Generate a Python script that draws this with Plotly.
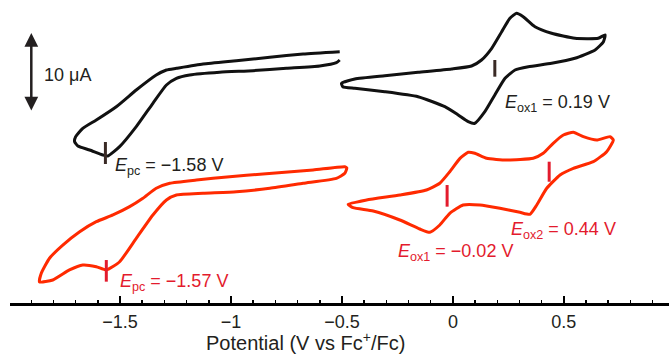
import plotly.graph_objects as go

# ---- Data (potential in V vs Fc+/Fc, current in µA with vertical offsets for stacking) ----
black_red_E = [-0.510, -0.675, -0.825, -0.976, -1.126, -1.246, -1.291, -1.337, -1.427, -1.517,
               -1.607, -1.668, -1.700, -1.705, -1.690, -1.637, -1.577, -1.555, -1.502, -1.427,
               -1.352, -1.291, -1.246, -1.186, -1.051, -0.901, -0.750, -0.600, -0.525, -0.510]
black_red_I = [32.64, 32.34, 31.91, 31.47, 31.04, 30.48, 30.26, 29.61, 27.66, 25.49,
               23.77, 22.69, 21.60, 20.95, 20.39, 19.87, 19.22, 19.09, 20.30, 22.90,
               25.94, 28.31, 29.18, 29.61, 29.96, 30.17, 30.48, 30.78, 31.21, 31.56]

black_ox_E = [-0.502, -0.442, -0.307, -0.157, -0.006, 0.084, 0.129, 0.175, 0.220, 0.257,
              0.287, 0.317, 0.370, 0.445, 0.550, 0.655, 0.686, 0.678, 0.641, 0.550,
              0.445, 0.340, 0.280, 0.235, 0.189, 0.144, 0.099, 0.069, 0.024, -0.036,
              -0.157, -0.307, -0.442, -0.496, -0.502]
black_ox_I = [28.53, 29.09, 29.52, 29.96, 30.39, 30.78, 31.56, 33.08, 35.23, 36.97,
              37.62, 37.18, 35.88, 35.03, 34.38, 34.38, 34.81, 33.90, 32.86, 31.78,
              31.13, 30.69, 30.26, 29.18, 27.01, 24.84, 23.34, 23.55, 24.42, 25.49,
              26.79, 27.44, 27.88, 28.09, 28.53]

red_red_E = [-0.487, -0.630, -0.856, -1.006, -1.156, -1.276, -1.337, -1.397, -1.457, -1.532,
             -1.607, -1.682, -1.758, -1.818, -1.855, -1.863, -1.803, -1.728, -1.668, -1.607,
             -1.562, -1.502, -1.427, -1.352, -1.291, -1.246, -1.126, -0.976, -0.825, -0.675,
             -0.525, -0.487, -0.478, -0.487]
red_red_I = [17.70, 17.27, 16.75, 16.40, 15.97, 15.55, 14.90, 13.60, 12.51, 11.43,
             10.56, 9.26, 7.53, 5.81, 3.86, 2.73, 2.99, 4.29, 4.94, 4.71,
             4.29, 5.36, 8.40, 11.43, 13.38, 14.03, 14.25, 14.45, 14.90, 15.55,
             16.19, 16.84, 17.53, 17.70]

red_ox_E = [-0.472, -0.389, -0.239, -0.119, -0.059, -0.014, 0.032, 0.069, 0.099, 0.152,
            0.242, 0.362, 0.407, 0.452, 0.498, 0.543, 0.588, 0.648, 0.708, 0.723,
            0.693, 0.633, 0.543, 0.483, 0.423, 0.378, 0.347, 0.302, 0.212, 0.122,
            0.046, -0.014, -0.059, -0.104, -0.149, -0.239, -0.359, -0.450, -0.472]
red_ox_I = [12.82, 13.38, 14.03, 14.68, 15.55, 17.05, 18.79, 19.57, 19.44, 18.79,
            18.57, 18.79, 19.44, 20.74, 21.82, 22.17, 21.60, 21.17, 21.60, 21.17,
            19.65, 18.35, 17.49, 16.62, 14.90, 12.73, 11.52, 11.78, 12.30, 12.73,
            12.73, 11.65, 10.13, 9.18, 9.61, 10.78, 11.95, 12.38, 12.82]

# peak marker positions (V) and their vertical extents (µA, offset scale)
peak_E = [-1.566, 0.189, -1.562, -0.026, 0.434]
peak_I_low = [18.05, 29.39, 2.77, 12.51, 15.75]
peak_I_high = [20.91, 31.56, 5.58, 15.32, 18.35]
peak_is_red = [False, False, True, True, True]

# peak labels
label_text = ["<i>E</i><sub>pc</sub> = \u22121.58 V", "<i>E</i><sub>ox1</sub> = 0.19 V",
              "<i>E</i><sub>pc</sub> = \u22121.57 V", "<i>E</i><sub>ox1</sub> = \u22120.02 V",
              "<i>E</i><sub>ox2</sub> = 0.44 V"]
label_E = [-1.534, 0.228, -1.511, -0.256, 0.252]
label_I = [17.7, 25.9, 2.7, 6.5, 9.4]

# scale bar (10 µA)
scale_E = -1.900
scale_I = [24.81, 35.06]
scale_label = "10 \u03bcA"

tick_vals = [-1.5, -1.0, -0.5, 0.0, 0.5]
tick_text = ["\u22121.5", "\u22121", "\u22120.5", "0", "0.5"]
x_title = "Potential (V vs Fc<sup>+</sup>/Fc)"

BLACK = "#111111"
RED_LINE = "#ff2a00"
RED_MARK = "#e31b2d"
DARK = "#231f20"
FONT = "Liberation Sans, Arial, sans-serif"

fig = go.Figure()
for xs, ys, col in [(black_red_E, black_red_I, BLACK), (black_ox_E, black_ox_I, BLACK),
                    (red_red_E, red_red_I, RED_LINE), (red_ox_E, red_ox_I, RED_LINE)]:
    fig.add_trace(go.Scatter(x=xs, y=ys, mode="lines",
                             line=dict(color=col, width=3, shape="spline", smoothing=0.5),
                             hoverinfo="skip"))

for e, lo, hi, isred in zip(peak_E, peak_I_low, peak_I_high, peak_is_red):
    fig.add_trace(go.Scatter(x=[e, e], y=[lo, hi], mode="lines",
                             line=dict(color=RED_MARK if isred else "#3a2a25", width=3),
                             hoverinfo="skip"))

for t, e, i, isred in zip(label_text, label_E, label_I, peak_is_red):
    fig.add_annotation(x=e, y=i, text=t, showarrow=False, xanchor="left", yanchor="middle",
                       font=dict(family=FONT, size=18, color=RED_MARK if isred else DARK))

fig.add_annotation(x=scale_E, y=scale_I[1], ax=scale_E, ay=scale_I[0], xref="x", yref="y",
                   axref="x", ayref="y", text="", showarrow=True, arrowhead=2, arrowside="end+start",
                   arrowsize=1.1, arrowwidth=2.5, arrowcolor=DARK)
fig.add_annotation(x=-1.854, y=29.6, text=scale_label, showarrow=False, xanchor="left",
                   yanchor="middle", font=dict(family=FONT, size=18, color=DARK))

# axis title placed as an annotation (it sits left of the plot-area centre in the reference)
fig.add_annotation(xref="paper", yref="paper", x=0.449, y=0, yshift=-38, text=x_title,
                   showarrow=False, xanchor="center", yanchor="middle",
                   font=dict(family=FONT, size=20, color=DARK))

fig.update_layout(
    width=669, height=354, margin=dict(l=10, r=0, t=0, b=51),
    paper_bgcolor="white", plot_bgcolor="white", showlegend=False,
    font=dict(family=FONT, color=DARK),
    xaxis=dict(range=[-1.996, 0.974], showgrid=False, zeroline=False,
               showline=True, linecolor="black", linewidth=3,
               ticks="inside", ticklen=7, tickwidth=2.5, tickcolor="black",
               tickvals=tick_vals, ticktext=tick_text,
               tickfont=dict(family=FONT, size=18, color=DARK),
               minor=dict(dtick=0.1, tick0=0, ticks="inside", ticklen=3, tickwidth=1.5,
                          tickcolor="black", showgrid=False)),
    yaxis=dict(range=[0, 39.35], visible=False),
)

fig.write_html("out.html", config={"displayModeBar": False, "staticPlot": True},
               post_script="document.body.style.margin='0';document.body.style.padding='0';")
